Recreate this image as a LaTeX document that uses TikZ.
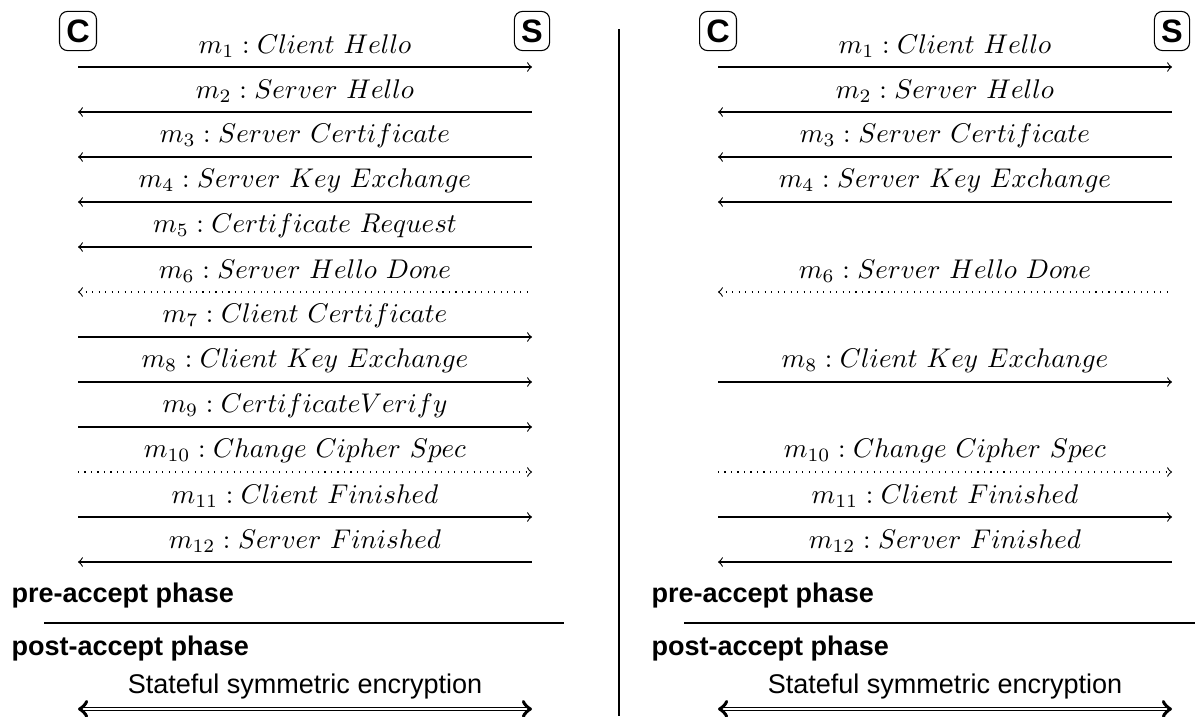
\documentclass[tikz,border=0pt]{standalone}
\usepackage{amsmath}
\usepackage{fontspec}
\setsansfont{Liberation Sans}
\usetikzlibrary{positioning}

\begin{document}
\begin{tikzpicture}[
        x=0.37pt, y=-0.37pt,
        party/.style={draw, rounded corners=3pt, inner sep=2.5pt, minimum height=14.5pt, font=\sffamily\bfseries\large},
        phase/.style={anchor=west, font=\sffamily\bfseries},
        snd/.style={->},
        rcv/.style={<-},
        snddot/.style={->, dotted},
        rcvdot/.style={<-, dotted},
      ]
      \useasboundingbox (0,0) rectangle (1195,716);
      \foreach \p/\ox in {1/0, 2/640}{
        \node[party] (c\p) at (78+\ox, 31) {C};
        \node[party] (s\p) at (532+\ox, 31) {S};
        \node[phase] (pre\p) at (2+\ox, 595) {pre-accept phase};
        \node[phase] (post\p) at (2+\ox, 648) {post-accept phase};
        \coordinate (la\p) at (44+\ox, 623);
        \coordinate (lb\p) at (564+\ox, 623);
        \draw (la\p) -- (lb\p);
        \coordinate (ec\p) at (78+\ox, 709);
        \coordinate (es\p) at (532+\ox, 709);
        \draw[double, <->] (ec\p) -- node[above, font=\sffamily] (enc\p) {Stateful symmetric encryption} (es\p);
      }
      % full handshake
      \foreach \k/\sty/\txt in {1/snd/Client~Hello, 2/rcv/Server~Hello, 3/rcv/Server~Certificate,
          4/rcv/Server~Key~Exchange, 5/rcv/Certificate~Request, 6/rcvdot/Server~Hello~Done,
          7/snd/Client~Certificate, 8/snd/Client~Key~Exchange, 9/snd/CertificateVerify,
          10/snddot/Change~Cipher~Spec, 11/snd/Client~Finished, 12/rcv/Server~Finished}{
        \coordinate (a\k) at (78, 22+45*\k);
        \coordinate (b\k) at (532, 22+45*\k);
        \draw[\sty] (a\k) -- node[above] (ma\k) {$m_{\k} : \txt$} (b\k);
      }
      % without client authentication
      \foreach \k/\sty/\txt in {1/snd/Client~Hello, 2/rcv/Server~Hello, 3/rcv/Server~Certificate,
          4/rcv/Server~Key~Exchange, 6/rcvdot/Server~Hello~Done, 8/snd/Client~Key~Exchange,
          10/snddot/Change~Cipher~Spec, 11/snd/Client~Finished, 12/rcv/Server~Finished}{
        \coordinate (c\k) at (718, 22+45*\k);
        \coordinate (d\k) at (1172, 22+45*\k);
        \draw[\sty] (c\k) -- node[above] (mb\k) {$m_{\k} : \txt$} (d\k);
      }
      \coordinate (top) at (619, 29);
      \coordinate (bot) at (619, 716);
      \draw (top) -- (bot);
    \end{tikzpicture}
\end{document}
